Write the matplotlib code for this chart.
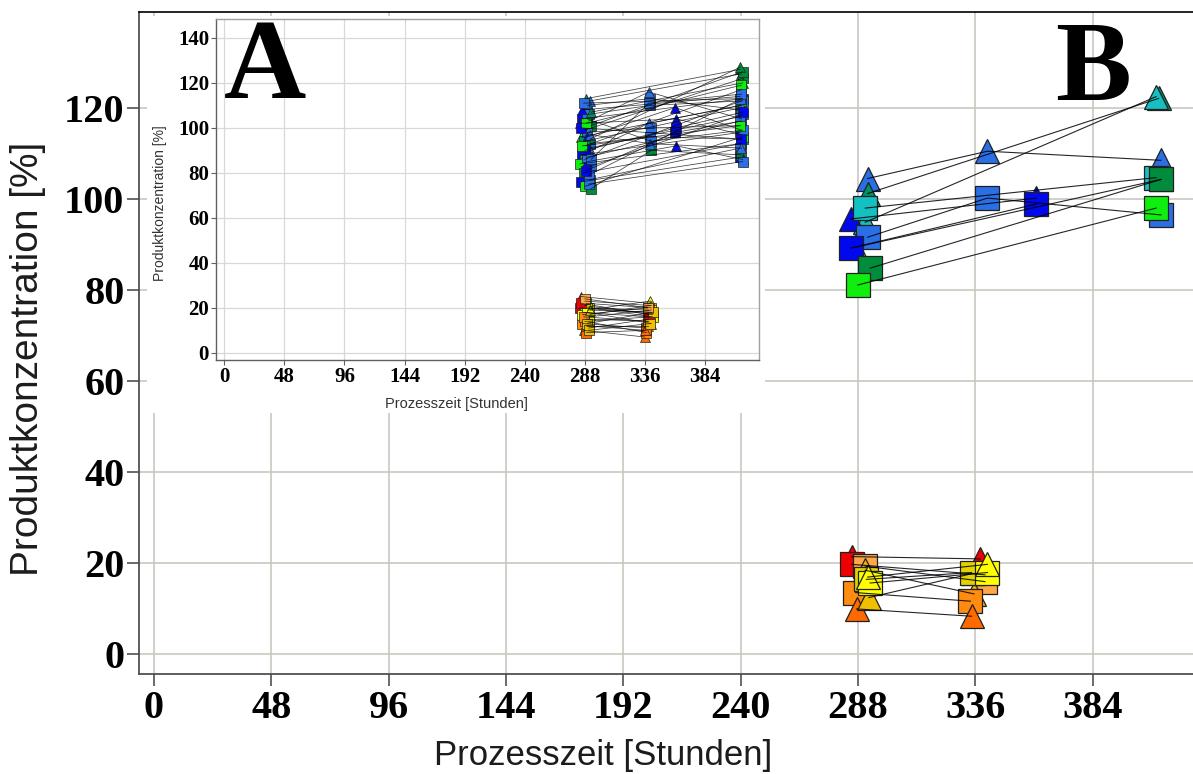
import matplotlib
matplotlib.use("Agg")
import matplotlib.pyplot as plt
from matplotlib.patches import Rectangle

# ---------------------------------------------------------------- data
# Panel B: upper product group (time points in hours, concentration in %)
b_up_times = [[292, 341, 412], [292, 411], [291, 410], [285, 361], [287, 412],
              [291, 410], [292, 341, 412], [285, 361], [293, 412], [288, 410]]
b_up_values = [[104.6, 110.6, 108.6], [101.3, 122.2], [95.0, 122.6], [95.7, 100.3], [89.5, 104.4],
               [98.1, 104.8], [91.7, 100.3, 96.6], [89.3, 99.0], [84.9, 104.4], [81.2, 98.1]]
b_up_markers = ["^", "^", "^", "^", "^", "s", "s", "s", "s", "s"]
b_up_colors = ["blue", "teal", "cyan", "darkblue", "green",
               "cyan", "blue", "darkblue", "darkgreen", "green"]

# Panel B: lower product group
b_lo_times = [[285.5, 338], [285.5, 340], [291, 340], [291, 335.5], [287, 334],
              [287.5, 334.5], [292.5, 335], [291.5, 334.5], [293, 341], [292, 341]]
b_lo_values = [[21.5, 21.0], [19.8, 17.5], [19.4, 16.0], [18.5, 13.3], [13.6, 11.7],
               [10.0, 8.4], [12.5, 17.8], [16.5, 18.0], [15.7, 18.0], [17.0, 19.8]]
b_lo_markers = ["^", "s", "s", "^", "s", "^", "^", "s", "s", "^"]
b_lo_colors = ["red", "red", "lightorange", "amber", "orange",
               "darkorange", "gold", "olive", "yellow", "yellow"]

# Panel A (all batches): upper product group
a_up_times = [[286, 414], [290, 340, 412], [292, 413], [289, 412], [284, 361, 413],
              [291, 340, 414], [288, 414], [285, 412], [287, 413], [291, 339, 413],
              [293, 414], [290, 341, 412], [286, 412], [288, 413], [292, 340, 414],
              [290, 360, 413], [284, 413], [291, 412], [289, 339, 413], [293, 414],
              [287, 413], [285, 412], [288, 414], [292, 412], [293, 341, 413],
              [290, 361, 414], [286, 412], [291, 413], [289, 360, 413], [292, 412],
              [290, 341, 414], [288, 413], [287, 412], [293, 414], [285, 413],
              [290, 412], [292, 340, 413], [288, 361, 414], [291, 414], [289, 413],
              [286, 412], [293, 339, 413]]
a_up_values = [[104, 113], [110, 113, 108], [112, 124], [113, 126], [102, 104, 97],
               [106, 110, 112], [99, 122], [96, 110], [94, 109], [103, 116, 104],
               [101, 125], [98, 100, 101], [88, 98], [86, 112], [93, 96, 95],
               [96, 109, 99], [84, 93], [91, 105], [89, 102, 110], [83, 106],
               [80, 93], [76, 87], [74, 96], [77, 91], [73, 90, 88],
               [85, 92, 86], [108, 114], [79, 113], [81, 98, 103], [95, 127],
               [104, 94, 99], [92, 117], [111, 113], [107, 120], [100, 95],
               [87, 103], [97, 93, 91], [90, 100, 107], [75, 85], [102, 119],
               [92, 101], [86, 111, 115]]
a_up_markers = ["s", "s", "^", "^", "^", "s", "s", "^", "s", "^",
                "s", "s", "s", "s", "s", "^", "s", "^", "^", "s",
                "s", "s", "s", "s", "s", "^", "^", "s", "s", "^",
                "s", "s", "s", "^", "s", "s", "^", "s", "s", "s",
                "s", "s"]
a_up_colors = ["darkblue", "blue", "blue", "teal", "darkblue", "blue", "darkgreen", "green",
               "teal", "blue", "darkgreen", "blue", "darkblue", "green", "blue", "darkblue",
               "green", "blue", "blue", "blue", "darkgreen", "darkblue", "green", "blue",
               "darkgreen", "darkblue", "darkblue", "blue", "darkblue", "darkgreen", "blue",
               "teal", "blue", "teal", "darkblue", "blue", "blue", "darkblue", "blue",
               "green", "green", "blue"]

# Panel A: lower product group
a_lo_times = [[285, 340], [284, 339], [289, 341], [287, 338], [286, 337], [287, 336],
              [290, 340], [291, 341], [289, 339], [290, 338], [288, 342], [292, 340],
              [288, 337], [291, 339], [290, 341], [286, 338], [291, 342], [289, 337],
              [288, 341], [290, 339], [291, 340], [287, 338], [289, 336], [292, 341],
              [285, 339], [290, 342], [288, 338], [291, 340]]
a_lo_values = [[25, 22], [20, 18], [22, 20], [18, 16], [13, 11], [10, 7],
               [19, 23], [16, 19], [15, 14], [12, 12], [21, 17], [17, 21],
               [14, 9], [11, 15], [18, 13], [17, 20], [20, 16], [9, 10],
               [23, 21], [20, 19], [14, 16], [16, 14], [12, 10], [19, 18],
               [22, 17], [13, 18], [24, 20], [10, 13]]
a_lo_markers = ["^", "s", "s", "s", "s", "^", "^", "s", "s", "^", "s", "^",
                "s", "s", "^", "s", "s", "s", "^", "s", "s", "s", "^", "^",
                "s", "s", "s", "s"]
a_lo_colors = ["red", "red", "amber", "orange", "orange", "darkorange",
               "yellow", "yellow", "gold", "gold", "lightorange", "yellow",
               "orange", "gold", "amber", "yellow", "yellow", "darkorange",
               "amber", "yellow", "yellow", "orange", "darkorange", "yellow",
               "red", "gold", "lightorange", "gold"]

x_ticks = [0, 48, 96, 144, 192, 240, 288, 336, 384]
y_ticks_b = [0, 20, 40, 60, 80, 100, 120]
y_ticks_a = [0, 20, 40, 60, 80, 100, 120, 140]

x_label = "Prozesszeit [Stunden]"
y_label = "Produktkonzentration [%]"

# ---------------------------------------------------------------- styles
palette = {
    "blue": "#2b6fe6", "darkblue": "#0008ee", "teal": "#00906a", "cyan": "#14c0c0",
    "green": "#10ee10", "darkgreen": "#008c3c",
    "red": "#ee0000", "lightorange": "#ffa848", "amber": "#f4b400",
    "orange": "#ff8c10", "darkorange": "#ff6a00", "gold": "#eec000",
    "olive": "#e4d200", "yellow": "#ffff00",
}
SERIF = "Liberation Serif"
SANS = "Liberation Sans"
GRID = "#c8c8c0"
SPINE = "#505050"

W, H = 1193, 774
fig = plt.figure(figsize=(W / 100, H / 100), dpi=100)


def px_box(left, top, right, bottom):
    return [left / W, 1 - bottom / H, (right - left) / W, (bottom - top) / H]


def draw_batches(ax, times, values, markers, colors, ms, lw, alpha, mew):
    for t, v, m, c in zip(times, values, markers, colors):
        ax.plot(t, v, linestyle="none", marker=m, ms=ms, mfc=palette[c],
                mec="#202020", mew=mew, zorder=3)
    for t, v in zip(times, values):
        ax.plot(t, v, color="black", lw=lw, alpha=alpha, zorder=4)


# ---------------------------------------------------------------- panel B
ax = fig.add_axes(px_box(139, 12, W, 674))
ax.set_xlim(-6.1, 425.1)
ax.set_ylim(-4.3, 141.2)
ax.set_xticks(x_ticks)
ax.set_yticks(y_ticks_b)
ax.grid(True, color=GRID, lw=1.2)
ax.set_axisbelow(True)
ax.spines["right"].set_visible(False)
for side in ("left", "bottom"):
    ax.spines[side].set_color(SPINE)
    ax.spines[side].set_linewidth(1.3)
ax.spines["top"].set_color("black")
ax.spines["top"].set_linewidth(1.2)
ax.tick_params(direction="out", length=8.5, width=1.2, color=SPINE, labelsize=29)
ax.tick_params(axis="y", pad=2)
ax.tick_params(axis="x", pad=3)
for lab in ax.get_xticklabels() + ax.get_yticklabels():
    lab.set_fontfamily(SERIF)
    lab.set_fontweight("bold")

draw_batches(ax, b_up_times, b_up_values, b_up_markers, b_up_colors, 17, 0.8, 0.85, 0.9)
draw_batches(ax, b_lo_times, b_lo_values, b_lo_markers, b_lo_colors, 17, 0.8, 0.85, 0.9)

fig.text(28 / W, 1 - 359 / H, y_label, rotation=90, ha="center", va="center",
         fontsize=28, family=SANS, color="#1c1c1c")
fig.text(603 / W, 1 - 765 / H, x_label, ha="center", va="baseline",
         fontsize=25, family=SANS, color="#1c1c1c")

# ---------------------------------------------------------------- panel A (inset)
fig.patches.append(Rectangle((147 / W, 1 - 413 / H), (765 - 147) / W, (413 - 16) / H,
                             transform=fig.transFigure, facecolor="white",
                             edgecolor="none", zorder=1))

ai = fig.add_axes(px_box(216, 19, 759, 360))
ai.set_zorder(2)
ai.set_xlim(-6.6, 427)
ai.set_ylim(-3.2, 148.4)
ai.set_xticks(x_ticks)
ai.set_yticks(y_ticks_a)
ai.grid(True, color="#d8d8d8", lw=0.9)
ai.set_axisbelow(True)
for side in ("top", "right"):
    ai.spines[side].set_color("#a0a0a0")
for side in ("left", "bottom"):
    ai.spines[side].set_color("#606060")
for s in ai.spines.values():
    s.set_linewidth(1.0)
ai.tick_params(direction="out", length=3.5, width=0.8, color="#606060",
               labelsize=15, pad=1.5)
for lab in ai.get_xticklabels() + ai.get_yticklabels():
    lab.set_fontfamily(SERIF)
    lab.set_fontweight("bold")

draw_batches(ai, a_up_times, a_up_values, a_up_markers, a_up_colors, 7.5, 0.55, 0.75, 0.5)
draw_batches(ai, a_lo_times, a_lo_values, a_lo_markers, a_lo_colors, 7.5, 0.55, 0.75, 0.5)

fig.text(160 / W, 1 - 203 / H, y_label, rotation=90, ha="center", va="center",
         fontsize=10, family=SANS, color="#333333", zorder=3)
fig.text(456 / W, 1 - 404 / H, x_label, ha="center", va="center",
         fontsize=10.5, family=SANS, color="#333333", zorder=3)

fig.text(224 / W, 1 - 98 / H, "A", ha="left", va="baseline", fontsize=82,
         family=SERIF, weight="bold", zorder=3)
fig.text(1055 / W, 1 - 100 / H, "B", ha="left", va="baseline", fontsize=82,
         family=SERIF, weight="bold", zorder=3)

fig.savefig("out.png", dpi=100)
